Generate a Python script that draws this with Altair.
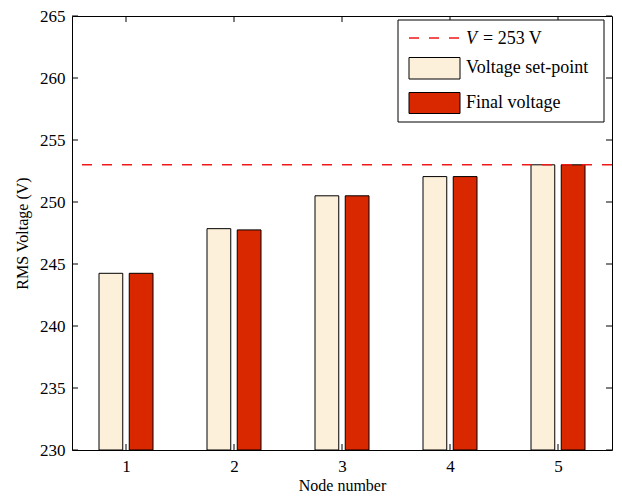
import altair as alt
import pandas as pd

# ---- data ----
nodes = [1, 2, 3, 4, 5]
setpoint = [244.25, 247.85, 250.5, 252.05, 253.0]
final_v = [244.25, 247.75, 250.5, 252.05, 253.0]
limit_v = [253]
y_ticks = [230, 235, 240, 245, 250, 255, 260, 265]
series_names = ["Voltage set-point", "Final voltage"]
legend_first = ["V", "= 253 V"]

rows = []
for n, s, f in zip(nodes, setpoint, final_v):
    rows.append({"node": n, "series": series_names[0], "value": s})
    rows.append({"node": n, "series": series_names[1], "value": f})
bars_df = pd.DataFrame(rows)

W, H = 540, 434
FONT = "Liberation Serif"
CREAM = "#FDF0DB"
RED = "#D92800"
DASH_RED = "#F01818"

xscale = alt.Scale(domain=[0.5, 5.5], nice=False, zero=False)
yscale = alt.Scale(domain=[230, 265], nice=False, zero=False)
xaxis = alt.Axis(values=nodes, title="Node number", format="d",
                 labelPadding=8, titlePadding=3, titleFontSize=16,
                 labelFont=FONT, labelFontSize=17, titleFont=FONT)
yaxis = alt.Axis(values=y_ticks, title="RMS Voltage (V)",
                 labelPadding=7, titlePadding=9, titleFontSize=16,
                 labelFont=FONT, labelFontSize=17, titleFont=FONT)

bars = alt.Chart(bars_df).transform_calculate(
    xa="datum.node + (datum.series == 'Voltage set-point' ? -0.25 : 0.03)",
    xb="datum.node + (datum.series == 'Voltage set-point' ? -0.03 : 0.25)",
    base="230",
).mark_rect(stroke="black", strokeWidth=1).encode(
    x=alt.X("xa:Q", scale=xscale, axis=xaxis),
    x2="xb:Q",
    y=alt.Y("value:Q", scale=yscale, axis=yaxis),
    y2="base:Q",
    fill=alt.Fill("series:N", scale=alt.Scale(domain=series_names, range=[CREAM, RED]), legend=None),
)

limit = alt.Chart(pd.DataFrame({"v": limit_v})).mark_rule(
    color=DASH_RED, strokeWidth=1.6, strokeDash=[10, 10]
).encode(y=alt.Y("v:Q", scale=yscale, axis=yaxis))

ytick_df = pd.DataFrame({"t": y_ticks})
ytl = alt.Chart(ytick_df).mark_rule(color="black", strokeWidth=1).encode(
    y=alt.Y("t:Q", scale=yscale, axis=yaxis), x=alt.value(0), x2=alt.value(6))
ytr = alt.Chart(ytick_df).mark_rule(color="black", strokeWidth=1).encode(
    y=alt.Y("t:Q", scale=yscale, axis=yaxis), x=alt.value(W - 6), x2=alt.value(W))
xtick_df = pd.DataFrame({"n": nodes})
xtb = alt.Chart(xtick_df).mark_rule(color="black", strokeWidth=1).encode(
    x=alt.X("n:Q", scale=xscale, axis=xaxis), y=alt.value(H - 6), y2=alt.value(H))
xtt = alt.Chart(xtick_df).mark_rule(color="black", strokeWidth=1).encode(
    x=alt.X("n:Q", scale=xscale, axis=xaxis), y=alt.value(0), y2=alt.value(6))

# ---- legend ----
one = pd.DataFrame({"k": [0]})
LY = -5  # legend vertical shift relative to plot top
leg_box = alt.Chart(one).mark_rect(fill="white", stroke="black", strokeWidth=1).encode(
    x=alt.value(326), x2=alt.value(532), y=alt.value(9 + LY), y2=alt.value(111 + LY))
leg_dash = alt.Chart(one).mark_rule(color=DASH_RED, strokeWidth=1.6, strokeDash=[10, 10]).encode(
    x=alt.value(337), x2=alt.value(390), y=alt.value(27 + LY))
leg_cream = alt.Chart(one).mark_rect(fill=CREAM, stroke="black", strokeWidth=1).encode(
    x=alt.value(337), x2=alt.value(388), y=alt.value(46.5 + LY), y2=alt.value(68 + LY))
leg_red = alt.Chart(one).mark_rect(fill=RED, stroke="black", strokeWidth=1).encode(
    x=alt.value(337), x2=alt.value(388), y=alt.value(81.5 + LY), y2=alt.value(102.5 + LY))

def txt(label, x, y, style="normal"):
    return alt.Chart(pd.DataFrame({"s": [label]})).mark_text(
        font=FONT, fontSize=18, fontStyle=style, align="left", baseline="middle", color="black"
    ).encode(text="s:N", x=alt.value(x), y=alt.value(y + LY))

leg_t0 = txt(legend_first[0], 394, 28, "italic")
leg_t1 = txt(legend_first[1], 411, 28)
leg_t2 = txt(series_names[0], 394, 57)
leg_t3 = txt(series_names[1], 394, 91.5)

chart = alt.layer(
    bars, limit, ytl, ytr, xtb, xtt,
    leg_box, leg_dash, leg_cream, leg_red, leg_t0, leg_t1, leg_t2, leg_t3
).properties(
    width=W, height=H,
    autosize=alt.AutoSizeParams(type="none"),
    padding={"left": 64, "top": 8, "right": 2, "bottom": 48},
    background="white",
).configure_view(
    stroke="black", strokeWidth=1
).configure_axis(
    ticks=False, domain=False, grid=False,
    labelFont=FONT, labelFontSize=17, labelColor="black",
    titleFont=FONT, titleFontWeight="normal", titleColor="black",
)

chart.save("out.html", embed_options={"renderer": "svg", "actions": False})
